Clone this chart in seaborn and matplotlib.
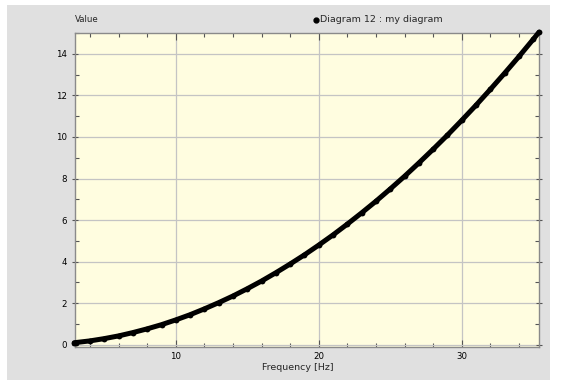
import matplotlib
matplotlib.use("Agg")
import matplotlib.pyplot as plt
from matplotlib.patches import Rectangle
import seaborn as sns
import pandas as pd

frequency = [2.9, 3, 4, 5, 6, 7, 8, 9, 10, 11, 12, 13, 14, 15, 16, 17, 18, 19, 20,
             21, 22, 23, 24, 25, 26, 27, 28, 29, 30, 31, 32, 33, 34, 35, 35.4]
value = [0.10, 0.11, 0.19, 0.30, 0.43, 0.59, 0.77, 0.97, 1.20, 1.45, 1.73, 2.03, 2.35,
         2.70, 3.07, 3.47, 3.89, 4.33, 4.80, 5.29, 5.81, 6.35, 6.91, 7.50, 8.11, 8.75,
         9.41, 10.09, 10.80, 11.53, 12.29, 13.07, 13.87, 14.70, 15.04]
x_ticks = [10, 20, 30]
y_ticks = [0, 2, 4, 6, 8, 10, 12, 14]
series_name = "Diagram 12 : my diagram"

df = pd.DataFrame({"Frequency": frequency, "Value": value})

sns.set_style("white")
plt.rcParams["font.family"] = ["DejaVu Sans"]

fig = plt.figure(figsize=(5.67, 3.83), dpi=100, facecolor="white")
fig.patches.append(Rectangle((7 / 567, 1 - 380 / 383), 543 / 567, 375 / 383,
                             transform=fig.transFigure, facecolor="#e0e0e0",
                             edgecolor="none", zorder=-10))
ax = fig.add_axes([75 / 567, 1 - 346.5 / 383, 464 / 567, 313.5 / 383])
ax.set_facecolor("#fffde0")

sns.lineplot(data=df, x="Frequency", y="Value", ax=ax, color="black",
             linewidth=3.6, marker="o", markersize=4.2, markeredgewidth=0,
             zorder=3, clip_on=False)

ax.set_xlim(2.95, 35.4)
ax.set_ylim(-0.08, 15.0)
ax.set_xticks(x_ticks)
ax.set_yticks(y_ticks)
ax.set_xticks(list(range(4, 36, 2)), minor=True)
ax.set_yticks(list(range(1, 16, 2)), minor=True)
ax.grid(True, which="major", color="#c4c4c4", linewidth=0.9)
ax.tick_params(axis="both", which="major", labelsize=6.2, colors="#555555",
               labelcolor="black", length=5, width=0.8)
ax.tick_params(axis="x", which="major", direction="in", top=True, bottom=True, pad=4)
ax.tick_params(axis="y", which="major", direction="inout", right=True, left=True)
ax.tick_params(which="minor", direction="in", length=3, width=0.8, colors="#555555",
               top=True, right=True, bottom=True, left=True)
for s in ax.spines.values():
    s.set_color("#8a8a8a")
    s.set_linewidth(1.0)

ax.set_xlabel("")
ax.set_ylabel("")
fig.text(75 / 567, 1 - 19 / 383, "Value", fontsize=6.2, ha="left", va="center")
fig.text(298 / 567, 1 - 367 / 383, "Frequency [Hz]", fontsize=6.8, ha="center", va="center")
fig.text(320 / 567, 1 - 19 / 383, series_name, fontsize=6.8, ha="left", va="center")
fig.lines.append(plt.Line2D([316 / 567], [1 - 19.5 / 383], marker="o", markersize=3.5,
                            color="black", transform=fig.transFigure))

fig.savefig("out.png", dpi=100, facecolor="white")
